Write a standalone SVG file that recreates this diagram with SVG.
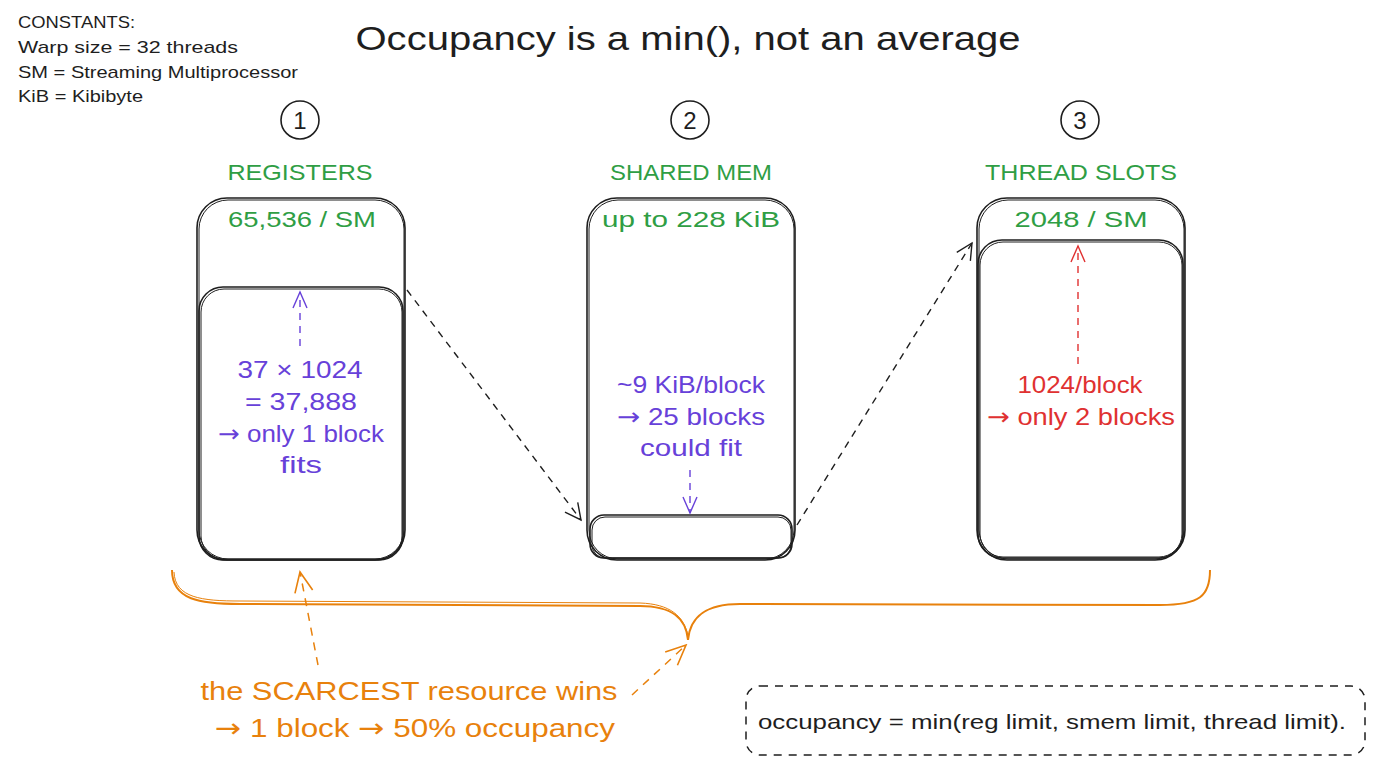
<svg xmlns="http://www.w3.org/2000/svg" width="1376" height="768" viewBox="0 0 1376 768">
<defs>
<style>
text{font-family:"Liberation Sans","DejaVu Sans",sans-serif;}
.arw{font-family:"DejaVu Sans",sans-serif;}
.t{fill:#1e1e1e;}
.g{fill:#2f9e44;font-size:22px;text-anchor:middle;}
.p{fill:#6741d9;font-size:24px;text-anchor:middle;}
.r{fill:#e03131;font-size:24px;text-anchor:middle;}
.o{fill:#e8810c;font-size:26px;text-anchor:middle;}
.box{fill:none;stroke:#1e1e1e;stroke-width:1.6;}
.box2{fill:none;stroke:#1e1e1e;stroke-width:1;}
.dash{fill:none;stroke:#1e1e1e;stroke-width:1.4;stroke-dasharray:7 6;}
.dp{fill:none;stroke:#6741d9;stroke-width:1.4;stroke-dasharray:7 6;}
.dr{fill:none;stroke:#e03131;stroke-width:1.4;stroke-dasharray:7 6;}
.do{fill:none;stroke:#e8810c;stroke-width:1.5;stroke-dasharray:8 7;}
.num{fill:#1e1e1e;font-size:24px;text-anchor:middle;}
</style>
<marker id="ak" viewBox="0 0 20 20" refX="18" refY="10" markerWidth="20" markerHeight="20" markerUnits="userSpaceOnUse" orient="auto"><path d="M2,2 L18,10 L2,18" fill="none" stroke="#1e1e1e" stroke-width="1.4"/></marker>
<marker id="ap" viewBox="0 0 20 20" refX="18" refY="10" markerWidth="20" markerHeight="20" markerUnits="userSpaceOnUse" orient="auto"><path d="M2,3 L18,10 L2,17" fill="none" stroke="#6741d9" stroke-width="1.4"/></marker>
<marker id="ar" viewBox="0 0 20 20" refX="18" refY="10" markerWidth="20" markerHeight="20" markerUnits="userSpaceOnUse" orient="auto"><path d="M2,3 L18,10 L2,17" fill="none" stroke="#e03131" stroke-width="1.4"/></marker>
<marker id="ao" viewBox="0 0 24 24" refX="22" refY="12" markerWidth="24" markerHeight="24" markerUnits="userSpaceOnUse" orient="auto"><path d="M2,3 L22,12 L2,21" fill="none" stroke="#e8810c" stroke-width="1.6"/></marker>
</defs>
<rect width="1376" height="768" fill="#ffffff"/>

<g id="constants">
<text class="t" x="18" y="28" font-size="17" textLength="117" lengthAdjust="spacingAndGlyphs">CONSTANTS:</text>
<text class="t" x="18" y="53" font-size="17" textLength="220" lengthAdjust="spacingAndGlyphs">Warp size = 32 threads</text>
<text class="t" x="18" y="78" font-size="17" textLength="280" lengthAdjust="spacingAndGlyphs">SM = Streaming Multiprocessor</text>
<text class="t" x="18" y="102" font-size="17" textLength="125" lengthAdjust="spacingAndGlyphs">KiB = Kibibyte</text>
</g>

<g id="title">
<text class="t" x="688" y="50" font-size="33" text-anchor="middle" textLength="665" lengthAdjust="spacingAndGlyphs">Occupancy is a min(), not an average</text>
</g>

<g id="node-registers">
<circle cx="300" cy="120" r="19" class="box"/>
<text class="num" x="300" y="129">1</text>
<text class="g" x="300" y="180" textLength="145" lengthAdjust="spacingAndGlyphs">REGISTERS</text>
<rect x="197" y="198" width="208" height="362" rx="30" class="box"/>
<rect x="199" y="200" width="205" height="359" rx="29" class="box2"/>
<text class="g" x="302" y="227" textLength="148" lengthAdjust="spacingAndGlyphs">65,536 / SM</text>
<rect x="199" y="287" width="204" height="273" rx="24" class="box"/>
<rect x="201" y="289" width="201" height="270" rx="23" class="box2"/>
<text class="p" x="300" y="378" textLength="125" lengthAdjust="spacingAndGlyphs">37 × 1024</text>
<text class="p" x="301" y="410" textLength="112" lengthAdjust="spacingAndGlyphs">= 37,888</text>
<text class="p" x="301" y="442" textLength="166" lengthAdjust="spacingAndGlyphs"><tspan class="arw">→</tspan> only 1 block</text>
<text class="p" x="301" y="473" textLength="42" lengthAdjust="spacingAndGlyphs">fits</text>
<path d="M300,346 L300,292" class="dp" marker-end="url(#ap)"/>
</g>

<g id="node-shared">
<circle cx="690" cy="120" r="19" class="box"/>
<text class="num" x="690" y="129">2</text>
<text class="g" x="691" y="180" textLength="162" lengthAdjust="spacingAndGlyphs">SHARED MEM</text>
<rect x="587" y="198" width="208" height="362" rx="30" class="box"/>
<rect x="589" y="200" width="205" height="359" rx="29" class="box2"/>
<text class="g" x="691" y="227" textLength="178" lengthAdjust="spacingAndGlyphs">up to 228 KiB</text>
<rect x="590" y="515" width="202" height="43" rx="14" class="box"/>
<rect x="592" y="517" width="199" height="41" rx="13" class="box2"/>
<text class="p" x="691" y="393" textLength="148" lengthAdjust="spacingAndGlyphs">~9 KiB/block</text>
<text class="p" x="691" y="425" textLength="148" lengthAdjust="spacingAndGlyphs"><tspan class="arw">→</tspan> 25 blocks</text>
<text class="p" x="691" y="456" textLength="102" lengthAdjust="spacingAndGlyphs">could fit</text>
<path d="M690,470 L690,513" class="dp" marker-end="url(#ap)"/>
</g>

<g id="node-threads">
<circle cx="1080" cy="120" r="19" class="box"/>
<text class="num" x="1080" y="129">3</text>
<text class="g" x="1081" y="180" textLength="192" lengthAdjust="spacingAndGlyphs">THREAD SLOTS</text>
<rect x="977" y="198" width="208" height="362" rx="30" class="box"/>
<rect x="979" y="200" width="205" height="359" rx="29" class="box2"/>
<text class="g" x="1081" y="227" textLength="133" lengthAdjust="spacingAndGlyphs">2048 / SM</text>
<rect x="978" y="240" width="205" height="318" rx="24" class="box"/>
<rect x="980" y="242" width="202" height="315" rx="23" class="box2"/>
<text class="r" x="1080" y="393" textLength="125" lengthAdjust="spacingAndGlyphs">1024/block</text>
<text class="r" x="1081" y="425" textLength="188" lengthAdjust="spacingAndGlyphs"><tspan class="arw">→</tspan> only 2 blocks</text>
<path d="M1078,364 L1078,246" class="dr" marker-end="url(#ar)"/>
</g>

<g id="connectors">
<path d="M407,290 L581,520" class="dash" marker-end="url(#ak)"/>
<path d="M797,525 L972,243" class="dash" marker-end="url(#ak)"/>
<path d="M172,570 C172,600 200,604 240,604 L640,606 C672,606 686,618 688,640 C690,618 704,604 740,604 L1160,605 C1200,605 1210,596 1210,570" fill="none" stroke="#e8810c" stroke-width="2"/>
<path d="M174,572 C175,598 202,601 240,601 L640,603 C670,604 684,616 688,636" fill="none" stroke="#e8810c" stroke-width="1"/>
<path d="M318,665 L300,572" class="do" marker-end="url(#ao)"/>
<path d="M632,695 L686,645" class="do" marker-end="url(#ao)"/>
</g>

<g id="summary">
<text class="o" x="409" y="700" textLength="417" lengthAdjust="spacingAndGlyphs">the SCARCEST resource wins</text>
<text class="o" x="415" y="737" textLength="400" lengthAdjust="spacingAndGlyphs"><tspan class="arw">→</tspan> 1 block <tspan class="arw">→</tspan> 50% occupancy</text>
</g>

<g id="formula">
<rect x="746" y="686" width="619" height="69" rx="14" fill="none" stroke="#1e1e1e" stroke-width="1.5" stroke-dasharray="8 7"/>
<text class="t" x="758" y="729" font-size="21" textLength="588" lengthAdjust="spacingAndGlyphs">occupancy = min(reg limit, smem limit, thread limit).</text>
</g>
</svg>
